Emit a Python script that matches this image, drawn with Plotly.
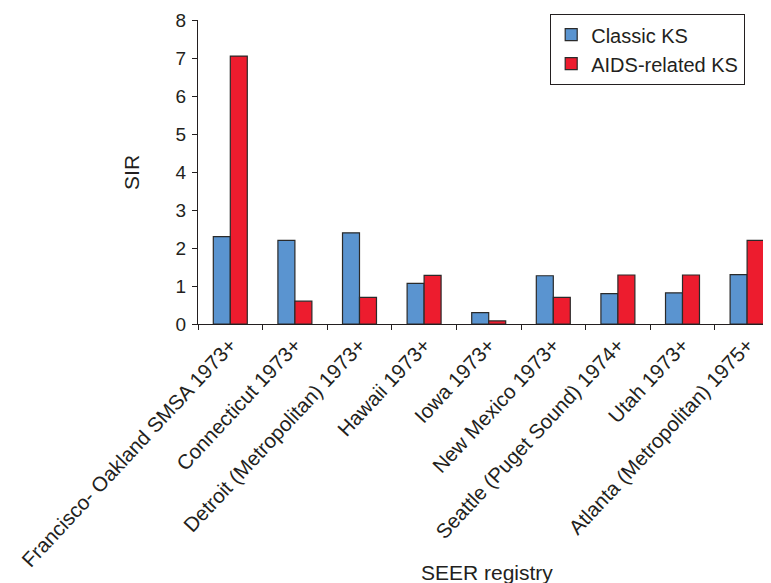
import plotly.graph_objects as go

registries = [
    "Francisco- Oakland SMSA 1973+",
    "Connecticut 1973+",
    "Detroit (Metropolitan) 1973+",
    "Hawaii 1973+",
    "Iowa 1973+",
    "New Mexico 1973+",
    "Seattle (Puget Sound) 1974+",
    "Utah 1973+",
    "Atlanta (Metropolitan) 1975+",
]
classic_ks = [2.3, 2.2, 2.4, 1.07, 0.3, 1.27, 0.8, 0.82, 1.3]
aids_ks = [7.05, 0.6, 0.7, 1.28, 0.08, 0.7, 1.29, 1.29, 2.2]
y_ticks = [0, 1, 2, 3, 4, 5, 6, 7, 8]

FONT = "Liberation Sans, Arial, sans-serif"
INK = "#231F20"

fig = go.Figure()
fig.add_trace(go.Bar(
    x=registries, y=classic_ks, name="Classic KS",
    marker=dict(color="#5A94D0", line=dict(color="#2a2a2a", width=1.2)),
))
fig.add_trace(go.Bar(
    x=registries, y=aids_ks, name="AIDS-related KS",
    marker=dict(color="#ED1C2E", line=dict(color="#2a2a2a", width=1.2)),
))

# the page body adds an 8px margin, so the figure is 8px smaller and shifted
fig.update_layout(
    width=763, height=575,
    margin=dict(l=190, r=0, t=12, b=259),
    paper_bgcolor="white", plot_bgcolor="white",
    barmode="group", bargap=0.474, bargroupgap=0,
    font=dict(family=FONT, color=INK),
    showlegend=True,
    legend=dict(
        x=(550 - 198) / 573, y=(324 - 14) / 304, xanchor="left", yanchor="top",
        bordercolor=INK, borderwidth=1.2, bgcolor="white",
        font=dict(size=20, family=FONT, color=INK),
    ),
    xaxis=dict(
        type="category", range=[-0.5, 8.37],
        showline=True, linecolor=INK, linewidth=1.2,
        ticks="outside", tickson="boundaries", ticklen=5, tickcolor=INK,
        tickangle=-47, tickfont=dict(size=20.5, family=FONT, color=INK),
        showgrid=False, automargin=False,
    ),
    yaxis=dict(
        range=[0, 8], tickvals=y_ticks,
        showline=True, linecolor=INK, linewidth=1.2,
        ticks="outside", ticklen=5, tickcolor=INK,
        tickfont=dict(size=19, family=FONT, color=INK),
        ticklabelstandoff=2,
        showgrid=False, zeroline=False, automargin=False,
    ),
    annotations=[
        dict(text="SIR", xref="paper", yref="paper", x=-0.117, y=0.5,
             xanchor="center", yanchor="middle", textangle=-90, showarrow=False,
             font=dict(size=21, family=FONT, color=INK)),
        dict(text="SEER registry", xref="paper", yref="paper", x=0.505, y=-0.819,
             xanchor="center", yanchor="middle", showarrow=False,
             font=dict(size=21, family=FONT, color=INK)),
    ],
)

fig.write_html("out.html")
